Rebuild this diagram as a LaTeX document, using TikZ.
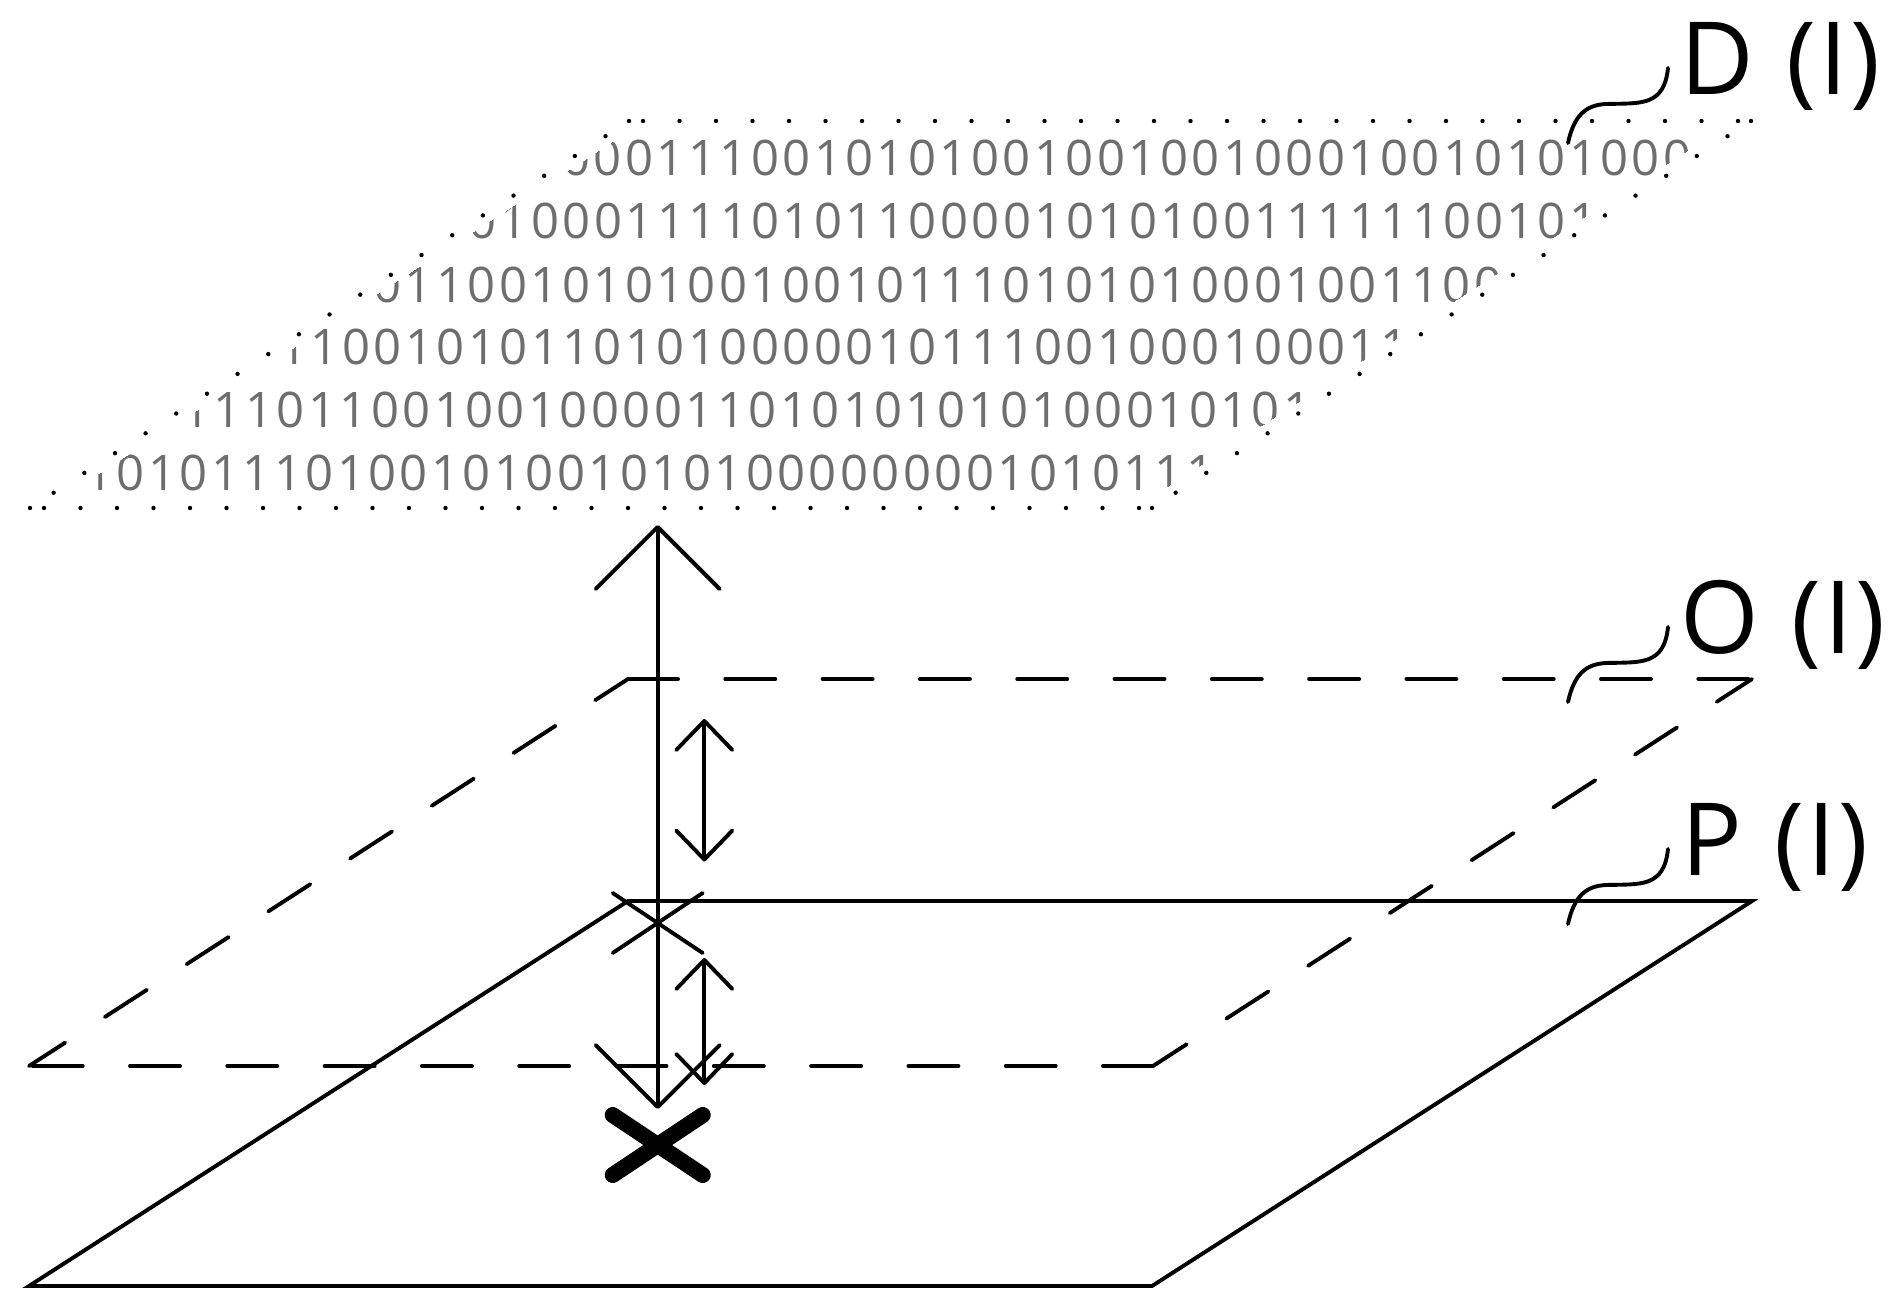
\documentclass[tikz,border=0pt]{standalone}
\usepackage{fontspec}
\usetikzlibrary{arrows.meta}
\newfontfamily\bitfont[LetterSpace=7]{Open Sans}
\newfontfamily\labelfont[LetterSpace=3,WordSpace=1.1]{Open Sans}

\begin{document}
\begin{tikzpicture}[
            x=0.5pt,
            y=-0.5pt,
            thinline/.style={line width=1.95pt},
            dashplane/.style={thinline, line cap=round, dash pattern=on 25pt off 23.65pt},
            dotplane/.style={line width=2.2pt, line cap=round, dash pattern=on 0pt off 18.25pt},
            bigarrow/.style={thinline, <->, >={Straight Barb[length=31pt,width=62pt,round]}},
            smallarrow/.style={thinline, <->, >={Straight Barb[length=14.5pt,width=28pt,round]}},
            bits/.style={anchor=base west, inner sep=0pt, text=black!57, font=\bitfont\fontsize{24.5}{30}\selectfont},
            tag/.style={anchor=base west, inner sep=0pt, font=\labelfont\fontsize{50.5}{60}\selectfont},
          ]
          \useasboundingbox (0,0) rectangle (1904,1311);
          \coordinate (d1) at (629,121);
          \coordinate (d2) at (1751,121);
          \coordinate (d3) at (1152,508);
          \coordinate (d4) at (30,508);
          \coordinate (o1) at (628,679);
          \coordinate (o2) at (1752,679);
          \coordinate (o3) at (1153,1066);
          \coordinate (o4) at (29,1066);
          \coordinate (p1) at (628,901);
          \coordinate (p2) at (1752,901);
          \coordinate (p3) at (1152,1286);
          \coordinate (p4) at (29,1286);
          \begin{scope}
            \clip (46,508) -- (645,121) -- (1733,121) -- (1134,508) -- cycle;
            \foreach \i/\xpos/\ypos/\txt in {
                1/562/175/000111001010100100100100010010101000,
                2/468/238/010001111010110000101010011111100101,
                3/373/302/011001010100100101110101010001001100,
                4/279/364/110010101101010000010111001000100011,
                5/182/427/111011001001000011010101010100010101,
                6/85/490/101011101001010010101000000001010111} {
              \node[bits] (row\i) at (\xpos,\ypos) {\txt};
            }
          \end{scope}
          \draw[dotplane, dash phase=11.25pt] (d1) -- (d2);
          \draw[dotplane, dash phase=11.25pt] (d4) -- (d3);
          \draw[dotplane, dash phase=4.25pt] (d1) -- (d4);
          \draw[dotplane, dash phase=4.25pt] (d2) -- (d3);
          \foreach \c in {d1,d2,d3,d4} {
            \fill (\c) circle (1.1pt);
          }
          \draw[dashplane] (o1) -- (o2);
          \draw[dashplane] (o3) -- (o4);
          \draw[dashplane, dash phase=4pt] (o2) -- (o3);
          \draw[dashplane, dash phase=5.5pt] (o1) -- (o4);
          \draw[thinline, line join=miter] (p1) -- (p2) -- (p3) -- (p4) -- cycle;
          \foreach \lab/\txt/\xpos/\ypos/\ytail in {D/D (I)/1680/95/143, O/O (I)/1680/653/702, P/P (I)/1681/875/924} {
            \begin{scope}
              \clip (1600,\ypos-77) rectangle (1904,\ypos+18);
              \node[tag] (\lab) at (\xpos,\ypos) {\txt};
            \end{scope}
            \coordinate (\lab tail) at (1568,\ytail);
            \coordinate (\lab head) at (1668,\ytail-75);
            \draw[thinline, line cap=round] (\lab tail) .. controls (1574,\ytail-28) and (1586,\ytail-38) .. (1606,\ytail-39)
              .. controls (1640,\ytail-40) and (1664,\ytail-36) .. (\lab head);
          }
          \coordinate (mid) at (657.7,923);
          \coordinate (hit) at (657.7,1145);
          \coordinate (bigtop) at (657.7,525);
          \coordinate (bigbottom) at (657.7,1109);
          \coordinate (uptop) at (704.3,719);
          \coordinate (upbottom) at (704.3,861.5);
          \coordinate (lowtop) at (704.3,958);
          \coordinate (lowbottom) at (704.3,1085);
          \draw[bigarrow] (bigtop) -- (bigbottom);
          \draw[smallarrow] (uptop) -- (upbottom);
          \draw[smallarrow] (lowtop) -- (lowbottom);
          \draw[thinline, line cap=round] (mid) +(-45,-30) -- +(45,30) +(-45,30) -- +(45,-30);
          \draw[line width=8pt, line cap=round] (hit) +(-45,-30) -- +(45,30) +(-45,30) -- +(45,-30);
        \end{tikzpicture}
\end{document}
